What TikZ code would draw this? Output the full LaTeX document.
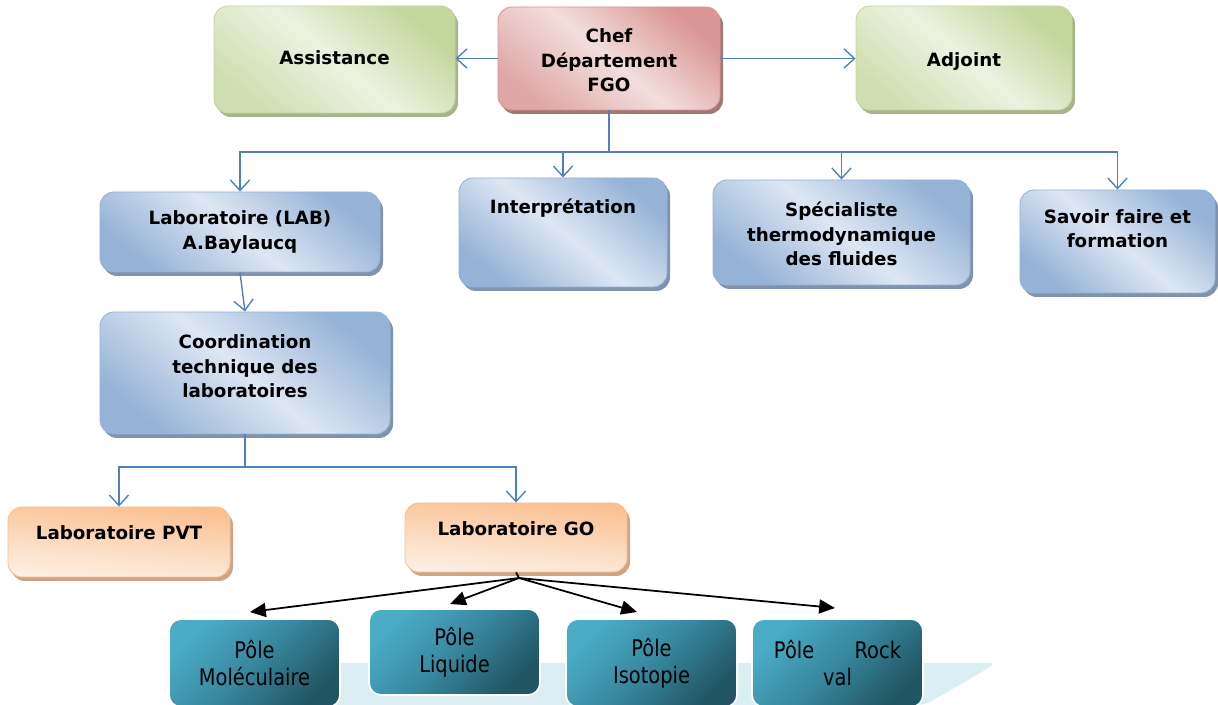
\documentclass[tikz,border=0pt]{standalone}
\usepackage{fontspec}
\setmainfont{DejaVu Sans}
\newfontfamily\polefont[FakeStretch=0.85]{DejaVu Sans}
\usetikzlibrary{arrows.meta, shadows}
\newdimen\pxu
\pxu=0.02cm

\begin{document}
\begin{tikzpicture}[x=0.02cm, y=-0.02cm,
  box/.style={rounded corners=14\pxu, align=center, line width=0.5pt,
    font=\bfseries\fontsize{10.4}{14}\selectfont, inner sep=0pt},
  greenbox/.style={box, draw=greenD, top color=greenD, bottom color=greenD!70!greenL,
    middle color=greenL, shading angle=-40,
    drop shadow={shadow xshift=3\pxu, shadow yshift=-4\pxu, fill=greenS, opacity=1}},
  redbox/.style={box, draw=redD, top color=redD, bottom color=redD!75!redL,
    middle color=redL, shading angle=-40,
    drop shadow={shadow xshift=3\pxu, shadow yshift=-4\pxu, fill=redS, opacity=1}},
  bluebox/.style={box, draw=blueD, top color=blueD, bottom color=blueD,
    middle color=blueL, shading angle=-40,
    drop shadow={shadow xshift=3\pxu, shadow yshift=-4\pxu, fill=blueS, opacity=1}},
  orangebox/.style={box, draw=orangeD, top color=orangeD, bottom color=orangeL!70!white,
    middle color=orangeL!60!orangeD, shading angle=-5,
    drop shadow={shadow xshift=3\pxu, shadow yshift=-4\pxu, fill=orangeS, opacity=1}},
  polebox/.style={rounded corners=12\pxu, align=center, draw=white, line width=1pt,
    font=\polefont\fontsize{13}{15.5}\selectfont, inner sep=0pt,
    top color=tealL, bottom color=tealD, middle color=tealM, shading angle=45,
    minimum width=171\pxu, minimum height=88\pxu},
  link/.style={lineblue, line width=0.8pt, -{Straight Barb[length=6pt,width=11pt]}},
  fanline/.style={black, line width=1pt, -{Triangle[length=9pt,width=8pt]}}]
  \definecolor{greenD}{RGB}{195,214,155}
  \definecolor{greenL}{RGB}{236,242,225}
  \definecolor{greenS}{RGB}{168,180,140}
  \definecolor{redD}{RGB}{217,150,148}
  \definecolor{redL}{RGB}{243,222,221}
  \definecolor{redS}{RGB}{160,120,118}
  \definecolor{blueD}{RGB}{149,179,215}
  \definecolor{blueL}{RGB}{221,231,243}
  \definecolor{blueS}{RGB}{128,146,172}
  \definecolor{orangeD}{RGB}{250,191,143}
  \definecolor{orangeL}{RGB}{253,233,217}
  \definecolor{orangeS}{RGB}{205,165,135}
  \definecolor{tealL}{RGB}{75,172,198}
  \definecolor{tealM}{RGB}{55,135,158}
  \definecolor{tealD}{RGB}{33,85,99}
  \definecolor{band}{RGB}{218,238,243}
  \definecolor{lineblue}{RGB}{79,129,189}
  \useasboundingbox (0,0) rectangle (1218,705);

  % band behind the poles
  \fill[band, rounded corners=8\pxu] (230,705) -- (300,663) -- (997,663) -- (925,705) -- cycle;

  % top row
  \node[redbox, minimum width=222\pxu, text height=84.8\pxu, text depth=18.2\pxu] (chef) at (609,58.5) {Chef\\Département\\FGO};
  \node[greenbox, minimum width=241\pxu, text height=58.8\pxu, text depth=48.2\pxu] (assist) at (334.5,59.5) {Assistance};
  \node[greenbox, minimum width=216\pxu, text height=60.8\pxu, text depth=43.2\pxu] (adj) at (964,58) {Adjoint};

  % second row
  \node[bluebox, minimum width=280\pxu, minimum height=80\pxu] (lab) at (240,232) {Laboratoire (LAB)\\A.Baylaucq};
  \node[bluebox, minimum width=208\pxu, text height=35.4\pxu, text depth=73.6\pxu] (interp) at (563,232.5) {Interprétation};
  \node[bluebox, minimum width=257\pxu, text height=85.8\pxu, text depth=19.2\pxu] (spec) at (841.5,232.5) {Spécialiste\\thermodynamique\\des fluides};
  \node[bluebox, minimum width=195\pxu, text height=57.8\pxu, text depth=45.2\pxu] (savoir) at (1117.5,241.5) {Savoir faire et\\formation};
  \node[bluebox, minimum width=290\pxu, text height=85.8\pxu, text depth=36.2\pxu] (coord) at (245,373) {Coordination\\technique des\\laboratoires};

  % laboratories
  \node[orangebox, minimum width=222\pxu, text height=32.4\pxu, text depth=37.6\pxu] (pvt) at (119,542) {Laboratoire PVT};
  \node[orangebox, minimum width=222\pxu, text height=32.4\pxu, text depth=36.6\pxu] (go) at (516,537.5) {Laboratoire GO};

  % poles
  \node[polebox] (pmol) at (254.5,663) {Pôle\\Moléculaire};
  \node[polebox, minimum height=86\pxu] (pliq) at (454.5,652) {Pôle\\Liquide};
  \node[polebox] (piso) at (651.5,663) {Pôle\\Isotopie};
  \node[polebox] (prock) at (837.5,663) {Pôle\hspace{23pt}Rock\\val};

  \coordinate (bus) at (609,152);
  \coordinate (cbus) at (245,467);
  \coordinate (fan) at (519,578);
  \coordinate (tmol) at (250,612);
  \coordinate (tliq) at (450,604);
  \coordinate (tiso) at (637,612);
  \coordinate (trock) at (835,608);

  \draw[link] (chef.west) -- (chef.west -| assist.east);
  \draw[link] (chef.east) -- (chef.east -| adj.west);
  \draw[lineblue, line width=0.8pt] (chef.south) -- (bus);
  \draw[link] (bus) -| (lab.north);
  \draw[link] (bus) -| (interp.north);
  \draw[link] (bus) -| (spec.north);
  \draw[link] (bus) -| (savoir.north);
  \draw[link] (lab.south) -- (coord.north);
  \draw[lineblue, line width=0.8pt] (coord.south) -- (cbus);
  \draw[link] (cbus) -| (pvt.north);
  \draw[link] (cbus) -| (go.north);

  \draw[black, line width=1pt] (go.south) -- (fan);
  \foreach \t in {tmol, tliq, tiso, trock}
    \draw[fanline] (fan) -- (\t);
\end{tikzpicture}
\end{document}
